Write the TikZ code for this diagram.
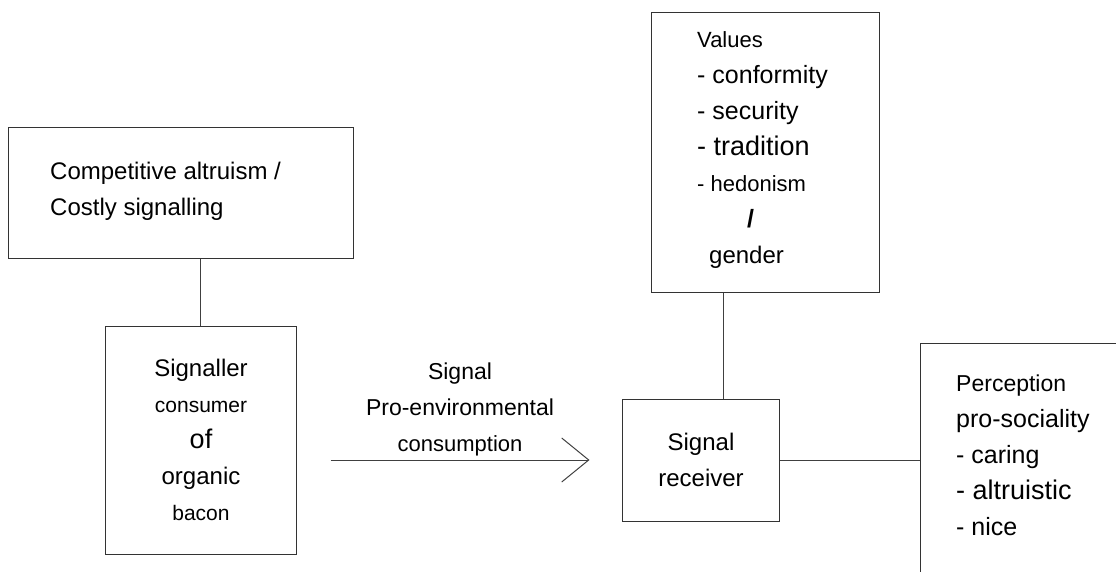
\documentclass[tikz,border=0pt]{standalone}
\usepackage{fontspec}
\setmainfont{Liberation Sans}
\usetikzlibrary{arrows.meta}

\newcommand{\sz}[1]{\fontsize{#1}{36}\selectfont}

\begin{document}
\begin{tikzpicture}[x=1pt, y=1pt,
  box/.style={draw=black!80, line width=1pt, inner sep=0pt},
  txt/.style={inner sep=0pt, font=\sz{24}},
  wire/.style={draw=black!75, line width=1pt}]
  \clip (0,0) rectangle (1116,571);

  \node[box, minimum width=345pt, minimum height=131pt] (comp) at (180.5,377.5) {};
  \node[txt, align=left, anchor=west] (comptxt) at (50,380) {Competitive altruism /\\Costly signalling};

  \node[box, minimum width=191pt, minimum height=228pt] (sig) at (200.5,131) {};
  \node[txt, align=center] (sigtxt) at (201,131) {Signaller\\{\sz{21}consumer}\\{\sz{27}of}\\organic\\{\sz{21}bacon}};

  \node[box, minimum width=228pt, minimum height=280pt] (vals) at (765,418) {};
  \node[txt, align=left, anchor=west] (valtxt) at (697,421) {{\sz{22}Values}\\{\sz{25}- conformity}\\{\sz{25}- security}\\{\sz{27}- tradition}\\{\sz{22}- hedonism}\\\hspace*{50pt}{\sz{25}\bfseries /}\\\hspace*{12pt}gender};

  \node[box, minimum width=157pt, minimum height=122pt] (recv) at (700.5,111) {};
  \node[txt, align=center] (recvtxt) at (701,111) {Signal\\receiver};

  \node[box, minimum width=240pt, minimum height=260pt, anchor=north west] (perc) at (920,228) {};
  \node[txt, align=left, anchor=west] (perctxt) at (956,115.5) {{\sz{23}Perception}\\{\sz{25}pro-sociality}\\{\sz{25}- caring}\\{\sz{27}- altruistic}\\{\sz{25}- nice}};

  \node[txt, align=center, font=\sz{23}] (lab) at (460,162) {Signal\\Pro-environmental\\{\sz{22}consumption}};

  \draw[wire] (sig.north) to (sig.north |- comp.south);
  \draw[wire] ([xshift=22.5pt]recv.north) to ([xshift=22.5pt]recv.north |- vals.south);
  \draw[wire] (recv.east) to (recv.east -| perc.west);
  \draw[wire, -{Straight Barb[length=27pt, width=44pt]}, shorten <=34pt, shorten >=32pt] (sig.east |- recv.west) to (recv.west);
\end{tikzpicture}
\end{document}
